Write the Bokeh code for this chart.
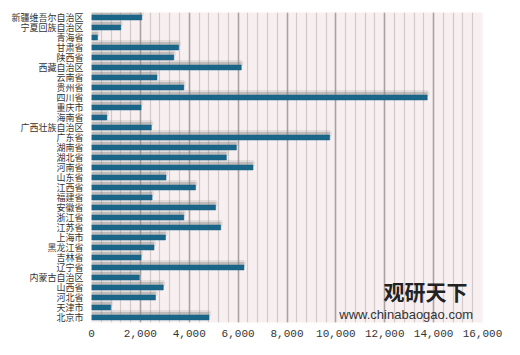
from bokeh.plotting import figure
from bokeh.models import FactorRange, Range1d, SingleIntervalTicker, NumeralTickFormatter, Label, ColumnDataSource
from bokeh.transform import dodge
from bokeh.embed import file_html
from bokeh.resources import INLINE

provinces = ["新疆维吾尔自治区", "宁夏回族自治区", "青海省", "甘肃省", "陕西省", "西藏自治区",
             "云南省", "贵州省", "四川省", "重庆市", "海南省", "广西壮族自治区", "广东省",
             "湖南省", "湖北省", "河南省", "山东省", "江西省", "福建省", "安徽省", "浙江省",
             "江苏省", "上海市", "黑龙江省", "吉林省", "辽宁省", "内蒙古自治区", "山西省",
             "河北省", "天津市", "北京市"]
values = [2060, 1200, 250, 3570, 3370, 6130,
          2680, 3780, 13740, 2030, 630, 2450, 9750,
          5930, 5520, 6610, 3050, 4260, 2480, 5080, 3780,
          5290, 3030, 2560, 2030, 6240, 1960, 2940,
          2620, 790, 4810]
x_ticks = [0, 2000, 4000, 6000, 8000, 10000, 12000, 14000, 16000]

src = ColumnDataSource(dict(cat=provinces, val=values))

p = figure(width=504, height=339, output_backend="svg", toolbar_location=None,
           y_range=FactorRange(factors=provinces[::-1], range_padding=0),
           x_range=Range1d(x_ticks[0], x_ticks[-1]),
           min_border_left=91, min_border_right=22, min_border_top=12, min_border_bottom=0)

p.background_fill_color = "#f8f0f0"
p.border_fill_color = "white"
p.outline_line_color = None

# shadow
p.hbar(y=dodge("cat", 0.4, range=p.y_range), right="val", left=0, height=0.3, source=src,
       fill_color="#8a8a8a", fill_alpha=0.4, line_color="#8a8a8a", line_alpha=0.2, line_width=4)
p.hbar(y="cat", right="val", left=0, height=0.5, source=src,
       fill_color="#1a6588", line_color="#1a6588", line_width=0.5)

# grid
p.ygrid.grid_line_color = None
p.xgrid.ticker = SingleIntervalTicker(interval=2000, num_minor_ticks=5)
p.xgrid.grid_line_color = "#aaa2a2"
p.xgrid.grid_line_width = 1.5
p.xgrid.minor_grid_line_color = "#d2caca"
p.xgrid.minor_grid_line_width = 1.2
p.xgrid.level = "underlay"

# axes
p.xaxis.ticker = x_ticks
p.xaxis.formatter = NumeralTickFormatter(format="0,0")
p.xaxis.axis_line_color = None
p.xaxis.major_tick_line_color = None
p.xaxis.minor_tick_line_color = None
p.xaxis.major_tick_out = 0
p.xaxis.major_tick_in = 0
p.xaxis.major_label_text_font = "Liberation Mono"
p.xaxis.major_label_text_font_size = "11px"
p.xaxis.major_label_text_color = "#333333"
p.xaxis.major_label_standoff = 7

p.yaxis.axis_line_color = None
p.yaxis.major_tick_line_color = None
p.yaxis.minor_tick_line_color = None
p.yaxis.major_tick_out = 0
p.yaxis.major_tick_in = 0
p.yaxis.major_label_text_font = "Noto Sans CJK SC"
p.yaxis.major_label_text_font_size = "9px"
p.yaxis.major_label_text_color = "#333333"
p.yaxis.major_label_standoff = 8

# watermark
p.add_layout(Label(x=11950, y=3.2, text="观研天下", text_font="Noto Sans CJK SC",
                   text_font_size="21px", text_font_style="bold", text_color="#222222",
                   text_baseline="alphabetic"))
p.add_layout(Label(x=10140, y=0.8, text="www.chinabaogao.com", text_font="Liberation Sans",
                   text_font_size="13px", text_color="#333333", text_baseline="alphabetic"))

open("out.html", "w").write(file_html(p, INLINE))
